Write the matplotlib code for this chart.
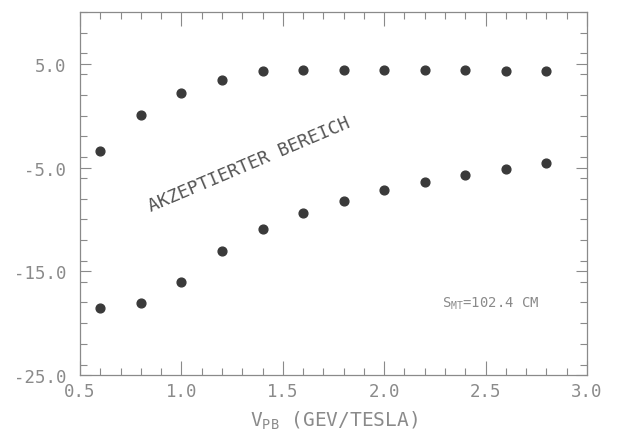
import matplotlib
matplotlib.use("Agg")
import matplotlib.pyplot as plt
from matplotlib.ticker import MultipleLocator

x_vals = [0.6, 0.8, 1.0, 1.2, 1.4, 1.6, 1.8, 2.0, 2.2, 2.4, 2.6, 2.8]
upper = [-3.4, 0.1, 2.2, 3.4, 4.3, 4.4, 4.4, 4.4, 4.4, 4.4, 4.3, 4.3]
lower = [-18.5, -18.1, -16.0, -13.0, -10.9, -9.4, -8.2, -7.2, -6.4, -5.7, -5.1, -4.6]
xticks = [0.5, 1.0, 1.5, 2.0, 2.5, 3.0]
yticks = [5.0, -5.0, -15.0, -25.0]

gray = "#8a8a8a"
plt.rcParams['font.family'] = ['DejaVu Sans Mono']

fig = plt.figure(figsize=(6.19, 4.39), dpi=100)
ax = fig.add_axes([80/619, 1-376/439, (587-80)/619, (376-13)/439])
ax.scatter(x_vals, upper, s=40, color="#3a3a3a", zorder=3)
ax.scatter(x_vals, lower, s=40, color="#3a3a3a", zorder=3)

ax.set_xlim(0.5, 3.0)
ax.set_ylim(-25.0, 10.0)
ax.set_xticks(xticks)
ax.set_xticklabels([f"{v:.1f}" for v in xticks])
ax.set_yticks(yticks)
ax.set_yticklabels([f"{v:.1f}" for v in yticks])
ax.xaxis.set_minor_locator(MultipleLocator(0.1))
ax.yaxis.set_minor_locator(MultipleLocator(2.0))
ax.tick_params(which='both', direction='in', top=True, right=True, colors=gray,
               labelcolor=gray, labelsize=12.5, width=0.8)
ax.tick_params(which='major', length=10)
ax.tick_params(which='minor', length=5)
ax.tick_params(axis='y', which='major', length=8, pad=10)
ax.tick_params(axis='x', which='major', pad=5)
for s in ax.spines.values():
    s.set_color(gray)
    s.set_linewidth(0.9)

ax.set_xlabel(r"V$_{\mathregular{PB}}$ (GEV/TESLA)", color=gray, fontsize=14, labelpad=6)
ax.text(0.85, -9.2, "AKZEPTIERTER BEREICH", rotation=23, color="#555555",
        fontsize=13, ha='left', va='baseline', rotation_mode='anchor')
ax.text(2.285, -18.4, r"S$_{\mathregular{MT}}$=102.4 CM", color=gray, fontsize=10)

fig.savefig("out.png", dpi=100)
